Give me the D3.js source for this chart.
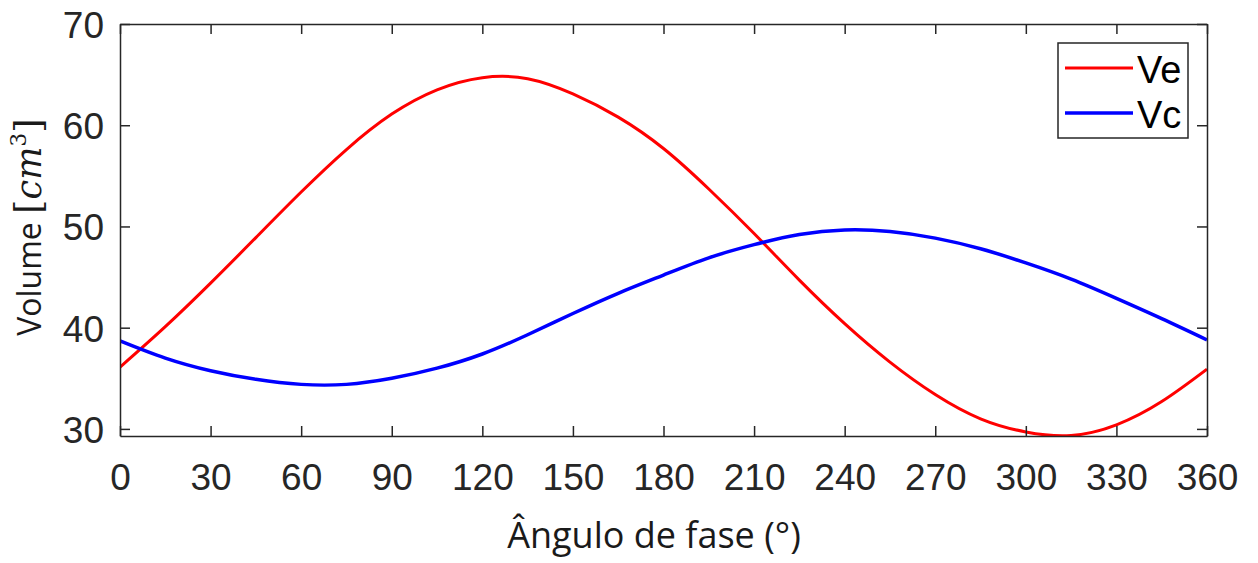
<!DOCTYPE html>
<html>
<head>
<meta charset="utf-8">
<script src="https://cdn.jsdelivr.net/npm/d3@7"></script>
<style>
  html, body { margin: 0; padding: 0; background: #fff; }
  svg { display: block; }
</style>
</head>
<body>
<svg id="chart" width="1258" height="563"></svg>
<script>
// ---- Data ----
const angles = [0, 15, 30, 45, 60, 75, 90, 105, 120, 135, 150, 165, 180, 195, 210, 225, 240, 255, 270, 285, 300, 315, 330, 345, 360];
const Ve = [36.1, 40.1, 44.4, 48.9, 53.4, 57.6, 61.1, 63.5, 64.7, 64.6, 63.1, 60.8, 57.7, 53.7, 49.3, 44.7, 40.4, 36.6, 33.4, 31.0, 29.7, 29.35, 30.4, 32.7, 35.9];
const Vc = [38.7, 37.0, 35.75, 34.9, 34.4, 34.4, 35.0, 36.0, 37.4, 39.3, 41.4, 43.4, 45.2, 46.9, 48.2, 49.2, 49.65, 49.5, 48.85, 47.8, 46.4, 44.8, 42.9, 40.9, 38.8];
const xTicks = [0, 30, 60, 90, 120, 150, 180, 210, 240, 270, 300, 330, 360];
const yTicks = [30, 40, 50, 60, 70];
const seriesNames = ["Ve", "Vc"];
const seriesColors = ["#ff0000", "#0000ff"];

(function () {
// ---- Layout ----
const svg = d3.select("#chart");
const pL = 120, pR = 1207, pT = 24, pB = 436;
const x = d3.scaleLinear().domain([0, 360]).range([pL, pR]);
const y = d3.scaleLinear().domain([29.3, 70]).range([pB, pT]);
const axisColor = "#262626";
const tickFont = "'Liberation Sans', Arial, Helvetica, sans-serif";

// Lines (clipped to plot area)
svg.append("clipPath").attr("id", "clip")
  .append("rect").attr("x", pL).attr("y", pT).attr("width", pR - pL).attr("height", pB - pT);

const line = d3.line().x((d, i) => x(angles[i])).y(d => y(d)).curve(d3.curveNatural);
const data = [Ve, Vc];
const widths = [3, 3.5];
data.forEach((s, k) => {
  svg.append("path")
    .attr("d", line(s))
    .attr("fill", "none")
    .attr("stroke", seriesColors[k])
    .attr("stroke-width", widths[k])
    .attr("clip-path", "url(#clip)");
});

// Axes: bottom/left with labels, top/right mirrored ticks
const tickLen = 10;
const gB = svg.append("g").attr("transform", `translate(0,${pB})`)
  .call(d3.axisBottom(x).tickValues(xTicks).tickSizeInner(-tickLen).tickSizeOuter(0).tickPadding(26));
const gL = svg.append("g").attr("transform", `translate(${pL},0)`)
  .call(d3.axisLeft(y).tickValues(yTicks).tickSizeInner(-tickLen).tickSizeOuter(0).tickPadding(16));
const gT = svg.append("g").attr("transform", `translate(0,${pT})`)
  .call(d3.axisTop(x).tickValues(xTicks).tickSizeInner(-tickLen).tickSizeOuter(0).tickFormat(""));
const gR = svg.append("g").attr("transform", `translate(${pR},0)`)
  .call(d3.axisRight(y).tickValues(yTicks).tickSizeInner(-tickLen).tickSizeOuter(0).tickFormat(""));

[gB, gL, gT, gR].forEach(g => {
  g.select(".domain").attr("stroke", axisColor).attr("stroke-width", 1.5);
  g.selectAll(".tick line").attr("stroke", axisColor).attr("stroke-width", 1.5);
  g.selectAll(".tick text").attr("fill", axisColor).attr("font-family", tickFont).attr("font-size", 37);
});
gB.selectAll(".tick text").attr("dy", null).attr("y", 54);
gL.selectAll(".tick text").attr("dy", "0.36em");

// Axis titles
svg.append("text")
  .attr("x", 654).attr("y", 548)
  .attr("text-anchor", "middle")
  .attr("font-family", "'Open Sans', 'Noto Sans', sans-serif")
  .attr("font-size", 36)
  .attr("fill", "#1a1a1a")
  .text("Ângulo de fase (°)");

const serif = "'DejaVu Serif', 'Liberation Serif', serif";
const yl = svg.append("text")
  .attr("transform", "translate(41,227) rotate(-90)")
  .attr("text-anchor", "middle")
  .attr("font-family", "'Open Sans', 'Noto Sans', sans-serif")
  .attr("font-size", 32)
  .attr("fill", "#1a1a1a");
yl.append("tspan").text("Volume ");
yl.append("tspan").attr("font-family", serif).attr("font-size", 37).text("[");
yl.append("tspan").attr("font-family", serif).attr("font-style", "italic").attr("font-size", 35).text("cm");
yl.append("tspan").attr("font-family", serif).attr("font-size", 22).attr("dy", -15).text("3");
yl.append("tspan").attr("font-family", serif).attr("font-size", 37).attr("dy", 15).text("]");

// Legend
const lg = svg.append("g");
lg.append("rect").attr("x", 1058).attr("y", 43).attr("width", 130).attr("height", 95)
  .attr("fill", "#fff").attr("stroke", axisColor).attr("stroke-width", 1.5);
const legY = [68, 113];
seriesNames.forEach((n, i) => {
  lg.append("line").attr("x1", 1065).attr("x2", 1133).attr("y1", legY[i]).attr("y2", legY[i])
    .attr("stroke", seriesColors[i]).attr("stroke-width", widths[i]);
  lg.append("text").attr("x", 1137).attr("y", legY[i] + 15)
    .attr("font-family", tickFont).attr("font-size", 38).attr("fill", "#000").text(n);
});
})();
</script>
</body>
</html>
